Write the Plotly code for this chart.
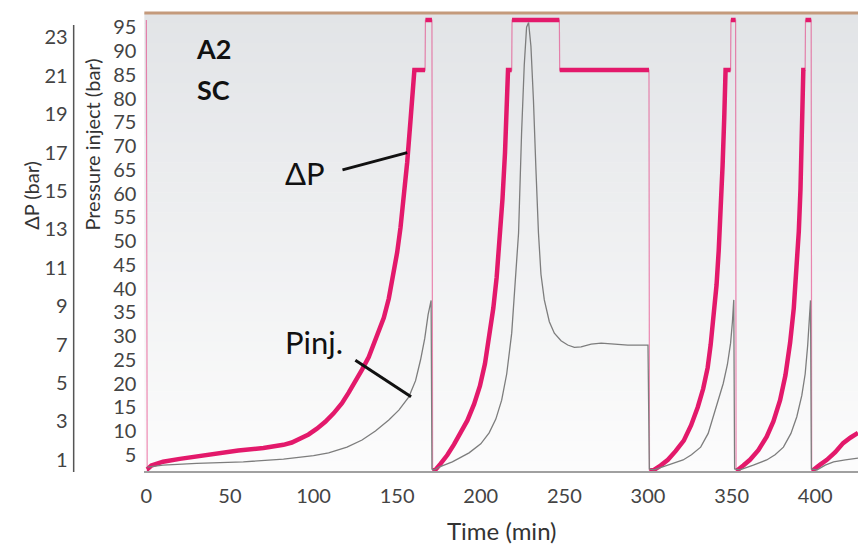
import plotly.graph_objects as go

# ---- ΔP across the core (bar): full logged series, including the saturated
# plateaus and the sharp releases between injection cycles
dp_time = [
    0.0, 0.3,
    0.5, 3, 10, 20, 38, 55, 70, 77, 82, 87, 92, 97, 102, 107, 112, 117, 121,
    125, 129, 133, 137.5, 142, 145, 148, 150, 152, 154, 156, 158, 159.5, 160.3,
    166.7,
    166.9, 170.8,
    171.2, 172.6, 176, 180, 184, 188, 192, 196, 199.5, 202.5, 205, 207.5,
    209.5, 211.5, 213, 214.5, 215.5, 216.3, 218.5,
    218.7, 247,
    247.2, 300.6,
    300.9, 303.6, 307.5, 311.9, 316.5, 321.4, 325.8, 329.8, 333, 335.7, 337.5,
    339.3, 341, 342.3, 343.6, 344.6, 345.6, 346.4, 349.4,
    349.6, 352.4,
    352.7, 353.6, 357, 361, 366, 371, 375, 379, 382.2, 385, 387.2, 389, 390.2,
    391.2, 392.1, 392.9, 394,
    394.2, 397.6,
    397.9, 398.8, 403, 407, 412, 416.7, 421, 425.6,
]
dp_value = [
    23.9, 0.5,
    0.5, 0.7, 0.9, 1.05, 1.3, 1.48, 1.62, 1.70, 1.78, 1.90, 2.08, 2.32, 2.62,
    2.98, 3.42, 3.95, 4.5, 5.05, 5.7, 6.35, 7.3, 8.4, 9.4, 10.7, 11.8, 13.1,
    14.7, 16.5, 18.7, 20.3, 21.3, 21.3,
    23.9, 23.9,
    0.45, 0.45, 0.8, 1.25, 1.8, 2.4, 3.05, 3.9, 4.85, 6.0, 7.3, 8.9,
    10.5, 12.6, 14.6, 17.0, 19.0, 21.3, 21.3,
    23.9, 23.9,
    21.3, 21.3,
    0.45, 0.47, 0.7, 1.0, 1.45, 2.0, 2.8, 3.75, 4.7, 5.8, 7.0,
    8.4, 10.1, 11.9, 14.0, 16.3, 18.8, 21.3, 21.3,
    23.9, 23.9,
    0.45, 0.47, 0.7, 1.0, 1.5, 2.2, 3.0, 4.1, 5.4, 7.1, 8.9, 11.0, 12.9,
    15.1, 17.9, 21.3, 21.3,
    23.9, 23.9,
    0.45, 0.47, 0.75, 1.0, 1.4, 1.87, 2.15, 2.4,
]

# ---- Injection pressure (bar)
pinj_time = [
    0.5, 10, 30, 58, 82, 100, 109, 120, 129, 137, 145, 151, 157, 161, 164,
    166.5, 168.5, 170.3, 170.8,
    172, 175, 183, 193, 200, 205, 209, 212.5, 215.5, 218.5, 220.5, 222.6,
    224.4, 226, 227.4, 228.6, 230, 231.5, 233, 234.5, 236, 238, 241, 244,
    248, 252, 256, 260, 266, 272, 280, 288, 300, 300.8,
    303.6, 312, 321, 326, 331.5, 336, 339, 342, 345, 347.5, 349.4, 350.5,
    351.3, 351.8,
    355, 363, 371, 376, 381, 385.5, 389, 392, 394, 395.5, 396.4, 397.2, 397.7,
    401, 406, 411, 418, 425.6,
]
pinj_value = [
    2.4, 2.8, 3.2, 3.5, 4.1, 4.8, 5.4, 6.6, 8.1, 10.0, 12.3, 14.4, 17.2, 20.6, 25.0,
    29.5, 34.5, 37.5, 2.0,
    1.8, 2.4, 3.5, 5.4, 7.3, 9.6, 12.5, 16.5, 22.0, 30.6, 40.0, 51.7,
    72.7, 87.0, 95.0, 96.0, 91.0, 79.7, 65.0, 51.7, 43.0, 37.6, 33.0, 30.6,
    29.0, 28.1, 27.6, 27.7, 28.3, 28.5, 28.3, 28.1, 28.1, 2.0,
    1.8, 2.8, 3.9, 5.0, 6.6, 9.5, 13.0, 16.5, 20.0, 24.0, 28.5, 33.0,
    37.6, 2.0,
    1.8, 2.8, 3.9, 5.0, 6.6, 9.5, 13.0, 17.5, 22.0, 28.0, 33.0, 37.5, 2.0,
    1.8, 2.8, 3.5, 3.9, 4.3,
]

x_ticks = [0, 50, 100, 150, 200, 250, 300, 350, 400]
dp_ticks = [1, 3, 5, 7, 9, 11, 13, 15, 17, 19, 21, 23]
pinj_ticks = [5, 10, 15, 20, 25, 30, 35, 40, 45, 50, 55, 60, 65, 70, 75, 80, 85, 90, 95]

# ---- page geometry (pixels)
W, H = 858, 554
PLOT_L, PLOT_R, PLOT_T, PLOT_B = 141, 858, 13, 471


def fx(p):
    return p / W


def fy(p):
    return 1 - p / H


PINK = "#e3196b"
FONT = "Lato"

# Thick ΔP curve: same series, broken wherever the logger jumps abruptly
thick_t, thick_v = [], []
for i, (t, v) in enumerate(zip(dp_time, dp_value)):
    if i > 0:
        dt = t - dp_time[i - 1]
        dv = abs(v - dp_value[i - 1])
        if dt <= 0.5 and dv > 1.5:
            thick_t.append(None)
            thick_v.append(None)
    thick_t.append(t)
    thick_v.append(v)

fig = go.Figure()

# background gradient of the plotting area
n_bands = 46
top_rgb = (226, 228, 231)
bot_rgb = (252, 252, 252)
band_h = (PLOT_B - PLOT_T) / n_bands
shapes = []
for k in range(n_bands):
    f = k / (n_bands - 1)
    c = tuple(round(a + (b - a) * f) for a, b in zip(top_rgb, bot_rgb))
    shapes.append(dict(
        type="rect", xref="paper", yref="paper", layer="below",
        x0=fx(PLOT_L), x1=fx(PLOT_R),
        y0=fy(PLOT_T + (k + 1) * band_h + 0.5), y1=fy(PLOT_T + k * band_h),
        fillcolor=f"rgb{c}", line=dict(width=0),
    ))
# brown frame line along the top of the plot
shapes.append(dict(type="line", xref="paper", yref="paper",
                   x0=fx(PLOT_L), x1=fx(PLOT_R), y0=fy(PLOT_T), y1=fy(PLOT_T),
                   line=dict(color="#c49a7c", width=3)))
# ΔP axis spine
shapes.append(dict(type="line", xref="paper", yref="paper",
                   x0=fx(70), x1=fx(70), y0=fy(25), y1=fy(472),
                   line=dict(color="#555555", width=1.5)))
# label leader lines
shapes.append(dict(type="line", xref="x", yref="y",
                   x0=117.3, y0=16.1, x1=156.0, y1=17.0,
                   line=dict(color="#111111", width=3)))
shapes.append(dict(type="line", xref="x", yref="y2",
                   x0=125.0, y0=24.9, x1=158.3, y1=17.2,
                   line=dict(color="#111111", width=3)))

# Pinj (thin grey)
fig.add_trace(go.Scatter(
    x=pinj_time, y=pinj_value, yaxis="y2", mode="lines",
    line=dict(color="#7d7d7d", width=1.3), name="Pinj.", showlegend=False,
))
# ΔP thin connecting line (shows the abrupt releases)
fig.add_trace(go.Scatter(
    x=dp_time, y=dp_value, mode="lines",
    line=dict(color="rgba(227,25,107,0.5)", width=1.2),
    name="ΔP", showlegend=False,
))
# ΔP thick trace
fig.add_trace(go.Scatter(
    x=thick_t, y=thick_v, mode="lines", connectgaps=False,
    line=dict(color=PINK, width=4.5), name="ΔP", showlegend=False,
))


def label(text, px, py, size, color="#111111", angle=0):
    return dict(text=text, x=fx(px), y=fy(py), xref="paper", yref="paper",
                xanchor="center", yanchor="middle", textangle=angle,
                showarrow=False, font=dict(family=FONT, size=size, color=color))


annotations = [
    label("ΔP", 302, 173, 31),
    label("Pinj.", 311, 342, 31),
    label("<b>A2</b>", 210, 48, 27),
    label("<b>SC</b>", 210, 90, 27),
    label("ΔP (bar)", 27, 195, 20, "#333333", -90),
    label("Pressure inject (bar)", 88, 145, 20, "#333333", -90),
    label("Time (min)", 500, 530, 24, "#333333"),
]

tick_font = dict(family=FONT, size=20, color="#444444")

fig.update_layout(
    width=W, height=H,
    margin=dict(l=0, r=0, t=0, b=0),
    paper_bgcolor="white", plot_bgcolor="rgba(0,0,0,0)",
    shapes=shapes, annotations=annotations,
    xaxis=dict(
        domain=[fx(PLOT_L), 1], range=[-1.2, 425.6],
        tickvals=x_ticks, tickfont=tick_font, showgrid=False, zeroline=False,
        showline=True, linecolor="#a0a0a0", linewidth=2,
        ticks="", ticklabelstandoff=6,
    ),
    yaxis=dict(
        domain=[fy(PLOT_B), fy(PLOT_T)], range=[0.417, 24.27],
        anchor="free", position=fx(70), side="left",
        tickvals=dp_ticks, tickfont=tick_font, showgrid=False, zeroline=False,
        showline=False, ticks="", ticklabelstandoff=6,
    ),
    yaxis2=dict(
        domain=[fy(PLOT_B), fy(PLOT_T)], range=[1.58, 98.0],
        overlaying="y", anchor="x", side="left",
        tickvals=pinj_ticks, tickfont=tick_font, showgrid=False, zeroline=False,
        showline=False, ticks="", ticklabelstandoff=7,
    ),
)

fig.write_html("out.html")
